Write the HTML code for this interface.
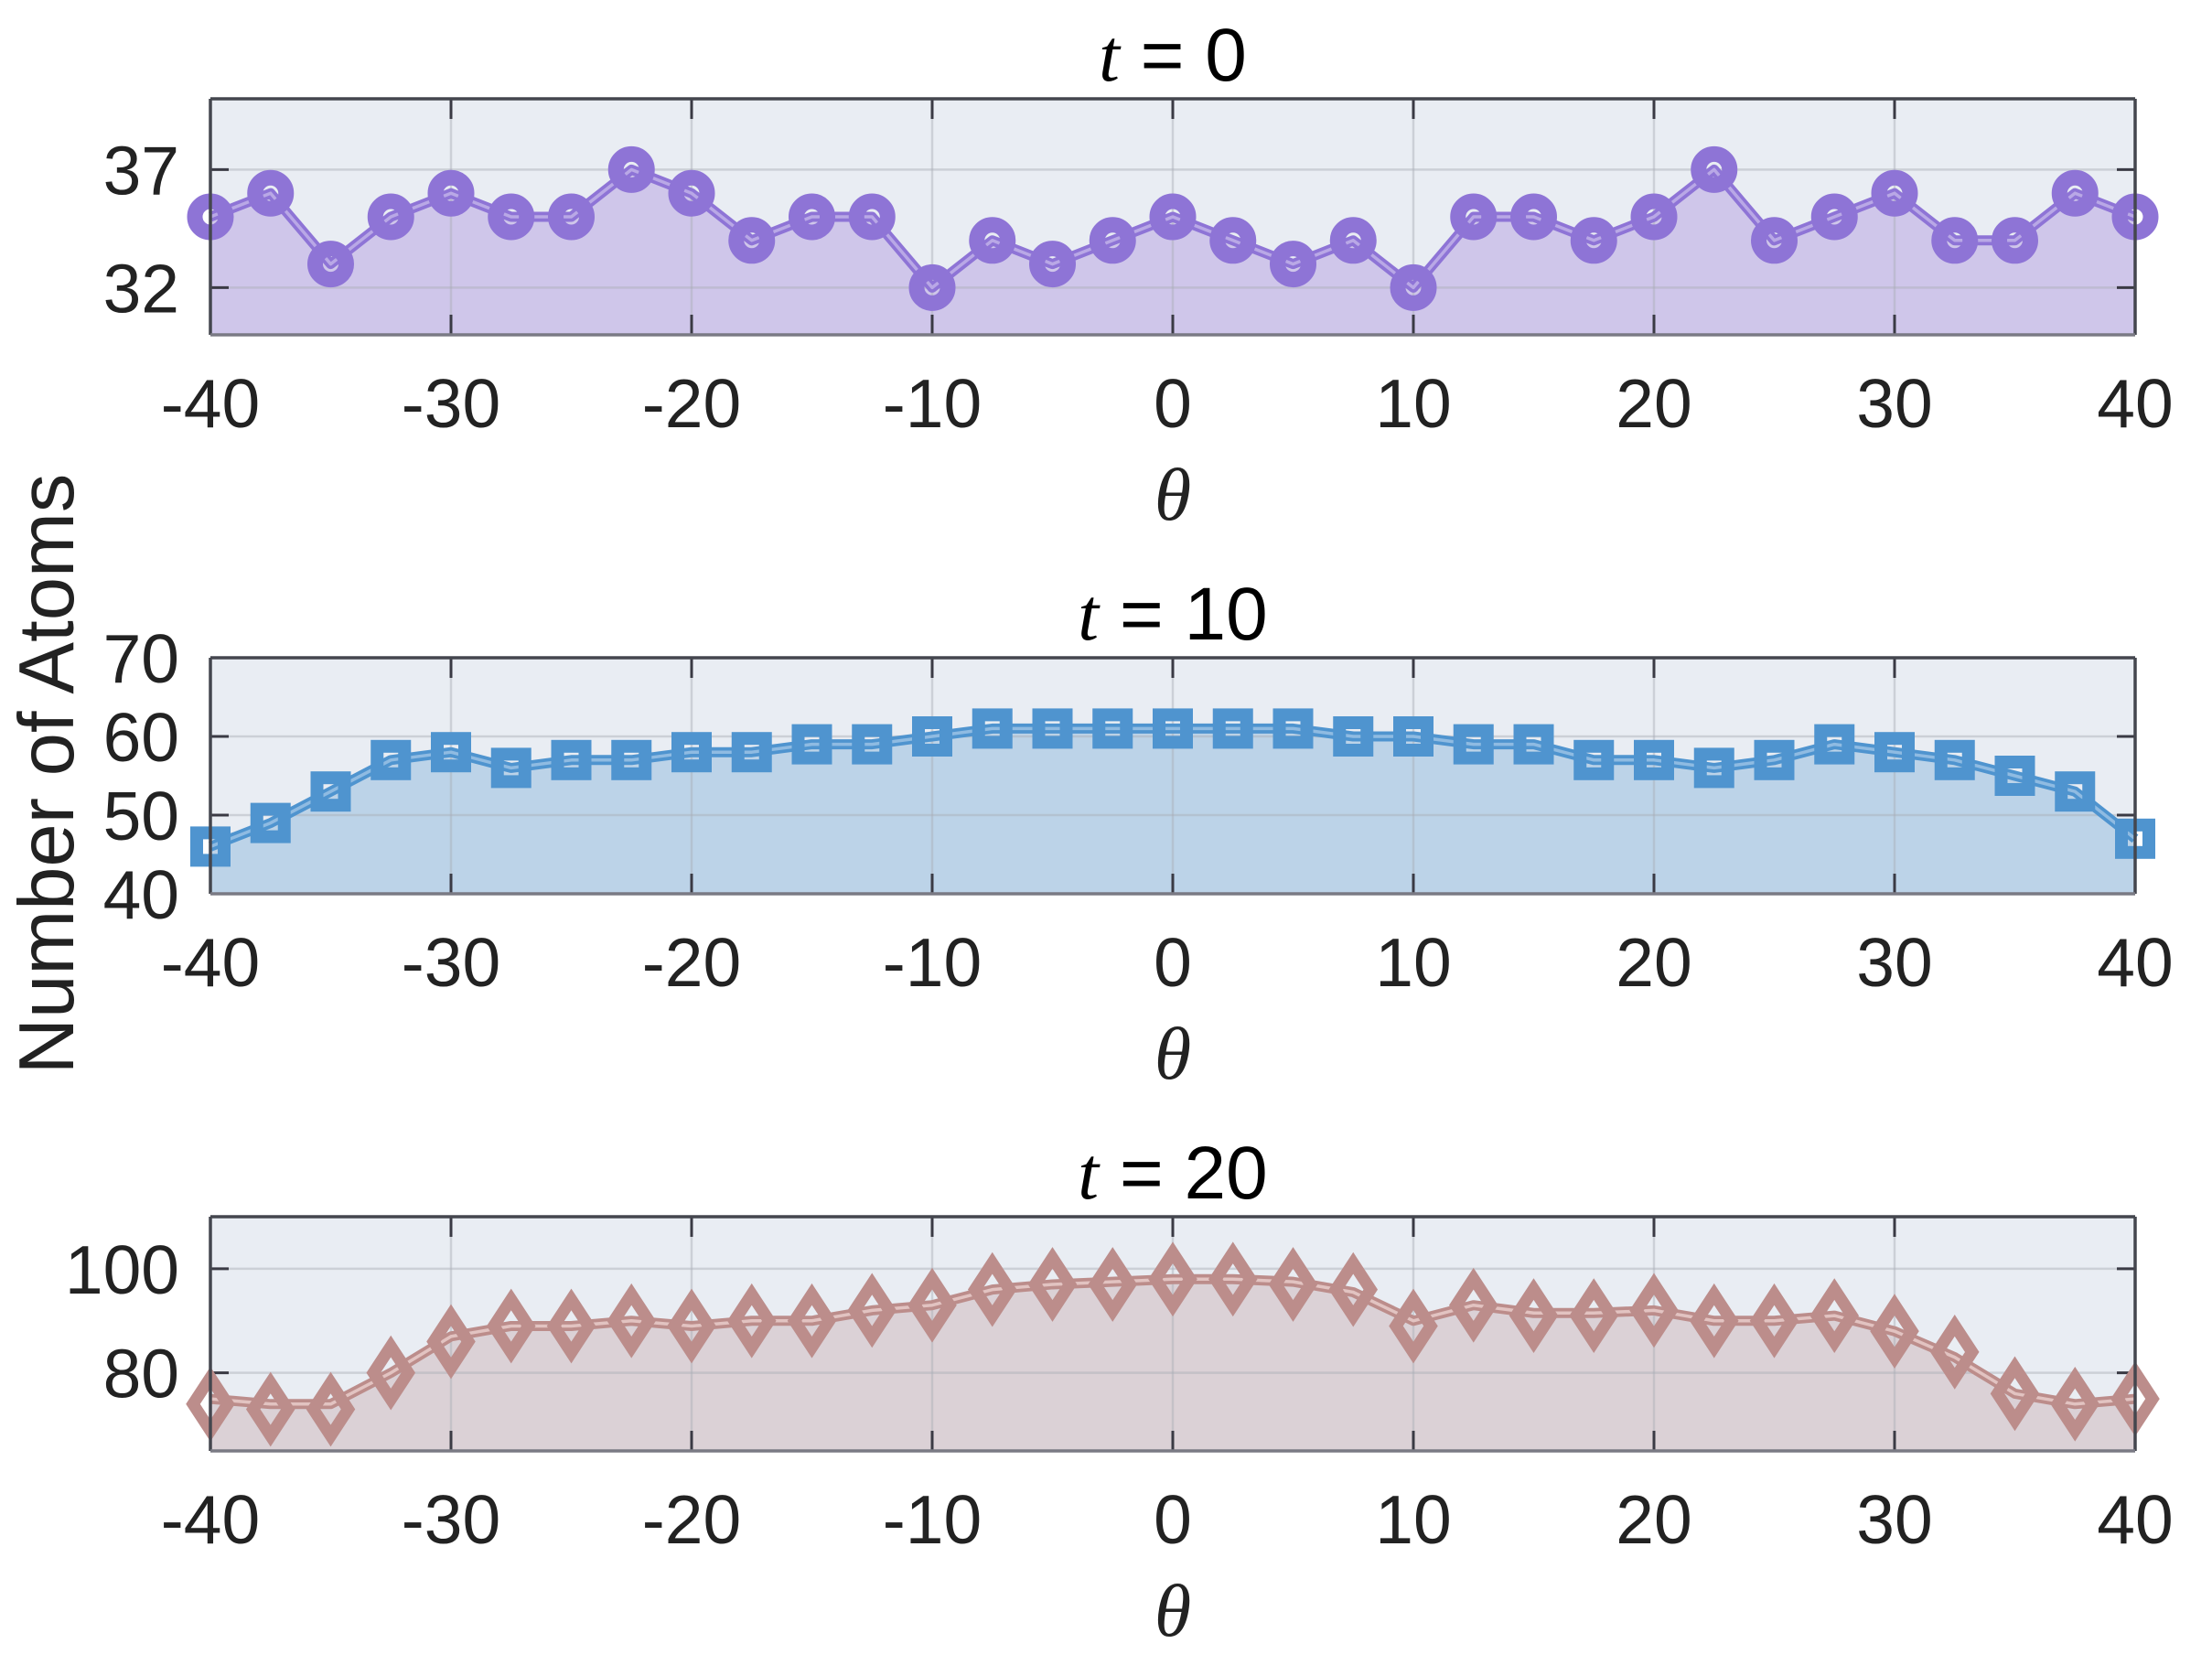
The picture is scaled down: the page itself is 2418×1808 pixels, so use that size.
<!DOCTYPE html>
<html><head><meta charset="utf-8"><style>
html,body{margin:0;padding:0;background:#fff;}
svg{display:block;}
</style></head><body>
<svg id="fig" width="2418" height="1808" viewBox="0 0 2418 1808" xmlns="http://www.w3.org/2000/svg">
<text transform="translate(80,846) rotate(-90)" text-anchor="middle" font-family="Liberation Sans, sans-serif" font-size="85" fill="#222">Number of Atoms</text>
</svg>
<script>
const thetas = [-40,-37.5,-35,-32.5,-30,-27.5,-25,-22.5,-20,-17.5,-15,-12.5,-10,-7.5,-5,-2.5,0,2.5,5,7.5,10,12.5,15,17.5,20,22.5,25,27.5,30,32.5,35,37.5,40];
const xTicks = [-40,-30,-20,-10,0,10,20,30,40];
const valsT0 = [35,36,33,35,36,35,35,37,36,34,35,35,32,34,33,34,35,34,33,34,32,35,35,34,35,37,34,35,36,34,34,36,35];
const valsT10 = [46,49,53,57,58,56,57,57,58,58,59,59,60,61,61,61,61,61,61,60,60,59,59,57,57,56,57,59,58,57,55,53,47];
const valsT20 = [74,73,73,80,86,89,89,90,89,90,90,92,93,96,97,97,98,98,97,96,89,93,91,91,92,90,90,91,88,84,76,74,75];
const lineT20 = [75,74,74,80,87,89,89,90,89,90,90,92,93,96,97,97.5,98,98,97.5,95.5,90,93,91.5,91.5,92,90,90,91,88,83,76,74,75];
const yTicksT0 = [32,37];
const yTicksT10 = [40,50,60,70];
const yTicksT20 = [80,100];

const NS = "http://www.w3.org/2000/svg";
const svg = document.getElementById('fig');
function mk(tag, attrs, parent){ const e=document.createElementNS(NS,tag); for(const k in attrs) e.setAttribute(k,attrs[k]); (parent||svg).appendChild(e); return e; }

const X0=230, X1=2334;
const panels = [
  {top:108,bot:366,ymin:30,ymax:40,vals:valsT0,line:valsT0,yt:yTicksT0,title:'0',marker:'circle',col:'#8e74d6',light:'#b9a8e6',fill:'#cfc6ea',name:'t0'},
  {top:719,bot:977,ymin:40,ymax:70,vals:valsT10,line:valsT10,yt:yTicksT10,title:'10',marker:'square',col:'#4f94cf',light:'#8fbbe2',fill:'#bcd3e8',name:'t10'},
  {top:1330,bot:1586,ymin:65,ymax:110,vals:valsT20,line:lineT20,yt:yTicksT20,title:'20',marker:'diamond',col:'#bc8d8b',light:'#e2c3c1',fill:'#dbd1d6',name:'t20'}
];

panels.forEach((p,pi)=>{
  const g = mk('g',{});
  
  
  const xs = v => X0 + (v+40)/80*(X1-X0);
  const ys = v => p.bot - (v-p.ymin)/(p.ymax-p.ymin)*(p.bot-p.top);
  const bg = mk('rect',{x:X0,y:p.top,width:X1-X0,height:p.bot-p.top,fill:'#e9edf3'},g);
  
  
  let d = 'M'+xs(thetas[0])+','+p.bot;
  thetas.forEach((t,i)=>{ d+=' L'+xs(t)+','+ys(p.line[i]); });
  d += ' L'+xs(thetas[thetas.length-1])+','+p.bot+' Z';
  const area = mk('path',{d:d,fill:p.fill},g);
  
  
  xTicks.forEach(t=>{
    const gl = mk('line',{x1:xs(t),x2:xs(t),y1:p.top,y2:p.bot,stroke:'#a9adb5','stroke-opacity':0.45,'stroke-width':2.5},g);
    
    
    mk('line',{x1:xs(t),x2:xs(t),y1:p.top,y2:p.top+22,stroke:'#3a3a44','stroke-width':3},g);
    mk('line',{x1:xs(t),x2:xs(t),y1:p.bot,y2:p.bot-22,stroke:'#3a3a44','stroke-width':3},g);
    const lb = mk('text',{x:xs(t),y:p.bot+101,'text-anchor':'middle','font-family':'Liberation Sans, sans-serif','font-size':75,fill:'#222'},g);
    lb.textContent = t;
    
    
  });
  p.yt.forEach(t=>{
    const gl = mk('line',{x1:X0,x2:X1,y1:ys(t),y2:ys(t),stroke:'#a9adb5','stroke-opacity':0.45,'stroke-width':2.5},g);
    
    
    mk('line',{x1:X0,x2:X0+20,y1:ys(t),y2:ys(t),stroke:'#3a3a44','stroke-width':3},g);
    mk('line',{x1:X1,x2:X1-20,y1:ys(t),y2:ys(t),stroke:'#3a3a44','stroke-width':3},g);
    const lb = mk('text',{x:196,y:ys(t)+27,'text-anchor':'end','font-family':'Liberation Sans, sans-serif','font-size':75,fill:'#222'},g);
    lb.textContent = t;
    
    
  });
  const pts = thetas.map((t,i)=>xs(t)+','+ys(p.line[i])).join(' ');
  const ln = mk('polyline',{points:pts,fill:'none',stroke:p.col,'stroke-width':11,'stroke-linejoin':'round'},g);
  
  
  mk('polyline',{points:pts,fill:'none',stroke:p.light,'stroke-width':3.5,'stroke-linejoin':'round'},g);
  thetas.forEach((t,i)=>{
    const cx=xs(t), cy=ys(p.vals[i]);
    let m;
    if(p.marker==='circle') m = mk('circle',{cx:cx,cy:cy,r:17,fill:'none',stroke:p.col,'stroke-width':17},g);
    else if(p.marker==='square') m = mk('rect',{x:cx-15,y:cy-15,width:30,height:30,fill:'none',stroke:p.col,'stroke-width':14},g);
    else m = mk('path',{d:'M'+cx+','+(cy-29)+' L'+(cx+19)+','+cy+' L'+cx+','+(cy+29)+' L'+(cx-19)+','+cy+' Z',fill:'none',stroke:p.col,'stroke-width':13,'stroke-linejoin':'miter'},g);
    
    
  });
  mk('line',{x1:X0,x2:X1,y1:p.top,y2:p.top,stroke:'#44464e','stroke-width':3.5},g);
  mk('line',{x1:X0,x2:X0,y1:p.top,y2:p.bot,stroke:'#44464e','stroke-width':3.5},g);
  mk('line',{x1:X1,x2:X1,y1:p.top,y2:p.bot,stroke:'#44464e','stroke-width':3.5},g);
  mk('line',{x1:X0,x2:X1,y1:p.bot,y2:p.bot,stroke:'#7a7a84','stroke-width':3.5},g);
  const tt = mk('text',{x:1282,y:p.top-20,'text-anchor':'middle','font-family':'Liberation Sans, sans-serif','font-size':82,fill:'#000'},g);
  
  
  const ti = mk('tspan',{'font-family':'Liberation Serif, serif','font-style':'italic'},tt); ti.textContent='t';
  const tr = mk('tspan',{},tt); tr.textContent=' = '+p.title;
  const xl = mk('text',{x:1282,y:p.bot+202,'text-anchor':'middle','font-family':'Liberation Serif, serif','font-style':'italic','font-size':82,fill:'#222'},g);
  xl.textContent='θ';
  
  
});
</script>
</body></html>
